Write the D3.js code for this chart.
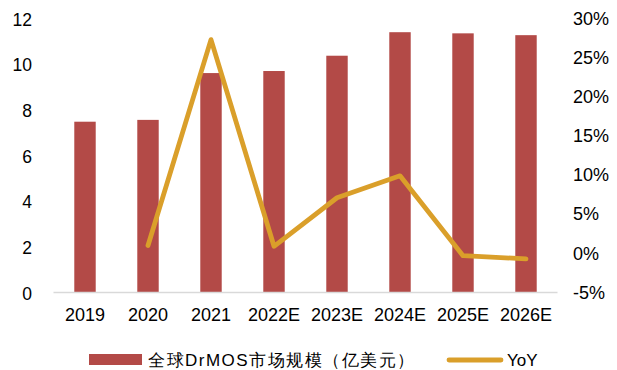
<!DOCTYPE html>
<html>
<head>
<meta charset="utf-8">
<script src="https://cdn.jsdelivr.net/npm/d3@7"></script>
<style>
  html, body { margin: 0; padding: 0; background: #fff; }
  svg text { font-family: "Liberation Sans", Arial, sans-serif; fill: #000; }
</style>
</head>
<body>
<svg id="chart" width="617" height="370"></svg>
<script>
// Global DrMOS market size (100M USD) and year-over-year growth
const categories = ["2019", "2020", "2021", "2022E", "2023E", "2024E", "2025E", "2026E"];
const marketSize = [7.48, 7.56, 9.61, 9.70, 10.37, 11.40, 11.35, 11.27];
const yoy = [null, 1.0, 27.3, 0.9, 7.1, 9.9, -0.3, -0.7];
const leftTicks = [0, 2, 4, 6, 8, 10, 12];
const rightTicks = [-5, 0, 5, 10, 15, 20, 25, 30];
const barLabel = "全球DrMOS市场规模（亿美元）";
const lineLabel = "YoY";

const barColor = "#B34A47";
const lineColor = "#DA9F2A";
const fontStack = "Liberation Sans, Arial, sans-serif";

const svg = d3.select("#chart");
const plot = { left: 53.5, right: 557.5, top: 18.5, bottom: 292.5 };

const x = d3.scaleBand().domain(categories).range([plot.left, plot.right]).paddingInner(0.66).paddingOuter(0.33);
const yL = d3.scaleLinear().domain([0, 12]).range([plot.bottom, plot.top]);
const yR = d3.scaleLinear().domain([-5, 30]).range([plot.bottom, plot.top]);

// bars
svg.append("g").selectAll("rect")
  .data(categories.map((c, i) => ({ c, v: marketSize[i] })))
  .join("rect")
  .attr("x", d => x(d.c))
  .attr("width", x.bandwidth())
  .attr("y", d => yL(d.v))
  .attr("height", d => yL(0) - yL(d.v))
  .attr("fill", barColor);

// baseline
svg.append("line")
  .attr("x1", plot.left).attr("x2", plot.right)
  .attr("y1", yL(0)).attr("y2", yL(0))
  .attr("stroke", "#d9d9d9").attr("stroke-width", 1.5);

// YoY line
const pts = categories.map((c, i) => ({ c, v: yoy[i] })).filter(d => d.v !== null);
const line = d3.line().x(d => x(d.c) + x.bandwidth() / 2).y(d => yR(d.v));
svg.append("path")
  .datum(pts)
  .attr("d", line)
  .attr("fill", "none")
  .attr("stroke", lineColor)
  .attr("stroke-width", 4.8)
  .attr("stroke-linejoin", "round")
  .attr("stroke-linecap", "round");

// left axis
const axL = d3.axisLeft(yL).tickValues(leftTicks).tickSize(0).tickPadding(0);
const gL = svg.append("g").attr("transform", `translate(32,1)`).call(axL);
gL.select(".domain").remove();
gL.selectAll("text").attr("font-size", 17.5).attr("font-family", fontStack);

// right axis
const axR = d3.axisRight(yR).tickValues(rightTicks).tickSize(0).tickPadding(0).tickFormat(d => d + "%");
const gR = svg.append("g").attr("transform", `translate(573,0)`).call(axR);
gR.select(".domain").remove();
gR.selectAll("text").attr("font-size", 18).attr("font-family", fontStack);

// category axis
const axB = d3.axisBottom(x).tickSize(0).tickPadding(0);
const gB = svg.append("g").attr("transform", `translate(0,321)`).call(axB);
gB.select(".domain").remove();
gB.selectAll("text").attr("y", 0).attr("dy", 0)
  .attr("font-size", 18).attr("font-family", fontStack);

// legend
const lg = svg.append("g");
lg.append("rect").attr("x", 89).attr("y", 354).attr("width", 53).attr("height", 11).attr("fill", barColor);
lg.append("text").attr("x", 148).attr("y", 360.5).attr("dy", "0.35em")
  .attr("font-size", 17).attr("letter-spacing", 1.5).text(barLabel);
lg.append("line").attr("x1", 449).attr("x2", 501).attr("y1", 360).attr("y2", 360)
  .attr("stroke", lineColor).attr("stroke-width", 4.8).attr("stroke-linecap", "round");
lg.append("text").attr("x", 507).attr("y", 360.5).attr("dy", "0.35em")
  .attr("font-size", 17).text(lineLabel);
</script>
</body>
</html>
